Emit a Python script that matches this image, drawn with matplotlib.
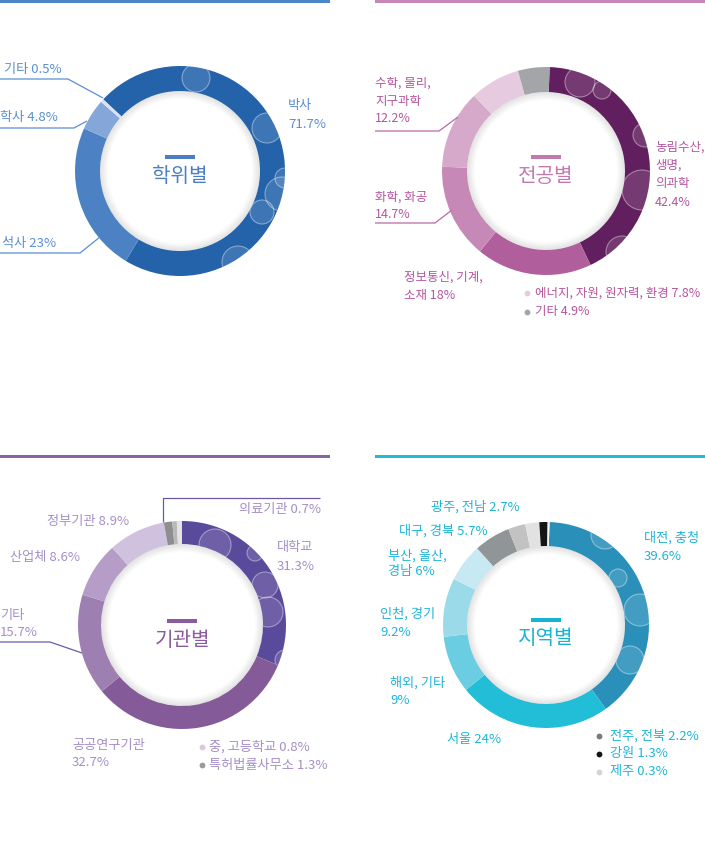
import matplotlib.pyplot as plt
from matplotlib.patches import Wedge, Rectangle, Circle
import numpy as np

plt.rcParams['font.family'] = ['Noto Sans CJK KR', 'DejaVu Sans']

W, H = 705, 851

# 학위별
deg_labels = ['박사', '석사', '학사', '기타']
deg_values = [71.7, 23, 4.8, 0.5]
deg_colors = ['#2462aa', '#4c82c3', '#84a6d8', '#d6e2f2']

# 전공별
major_labels = ['농림수산, 생명, 의과학', '정보통신, 기계, 소재', '화학, 화공',
                '수학, 물리, 지구과학', '에너지, 자원, 원자력, 환경', '기타']
major_values = [42.4, 18, 14.7, 12.2, 7.8, 4.9]
major_colors = ['#621f5f', '#b15e9c', '#c689b7', '#d6a9cb', '#e6cadf', '#a4a5a8']

# 기관별
inst_labels = ['대학교', '공공연구기관', '기타', '산업체', '정부기관',
               '특허법률사무소', '의료기관', '중, 고등학교']
inst_values = [31.3, 32.7, 15.7, 8.6, 8.9, 1.3, 0.7, 0.8]
inst_colors = ['#5a4a9b', '#845b98', '#9d80b1', '#b59dc7', '#d0c2de',
               '#8e8e8e', '#b8b8b8', '#e4e4e4']

# 지역별
region_labels = ['대전, 충청', '서울', '해외, 기타', '인천, 경기', '부산, 울산, 경남',
                 '대구, 경북', '광주, 전남', '전주, 전북', '강원', '제주']
region_values = [39.6, 24, 9, 9.2, 6, 5.7, 2.7, 2.2, 1.3, 0.3]
region_colors = ['#2a8fb9', '#22bdd7', '#6acde1', '#9bdbe9', '#c6e9f3',
                 '#909598', '#c2c2c2', '#e2e2e2', '#151515', '#f5f5f5']


def pct(v):
    return f'{v:g}%'


fig = plt.figure(figsize=(W / 100, H / 100), dpi=100)
ax = fig.add_axes([0, 0, 1, 1])


def Y(y):
    return H - y


def donut(cx, cy, values, colors, start, r=104, w=24, bubbles=()):
    wedges, _ = ax.pie(values, colors=colors, startangle=start, counterclock=False,
                       radius=r, center=(cx, Y(cy)),
                       wedgeprops=dict(width=w, linewidth=0))
    # 거품 무늬 (장식)
    for bx, by, br in bubbles:
        c = Circle((bx, Y(by)), br, facecolor=(1, 1, 1, 0.12),
                   edgecolor=(1, 1, 1, 0.4), lw=0.8)
        c.set_clip_path(wedges[0])
        ax.add_patch(c)
    # 안쪽 그림자
    rin = r - w
    for i in range(9):
        ax.add_patch(Wedge((cx, Y(cy)), rin - i * 0.9, 0, 360, width=0.9,
                           facecolor='#000000', alpha=0.11 * (1 - i / 9), lw=0))
    return wedges


def header(x0, x1, y, color):
    ax.add_patch(Rectangle((x0, Y(y + 3)), x1 - x0, 3, color=color, lw=0))


def title(cx, cy, s, color):
    ax.add_patch(Rectangle((cx - 15, Y(cy - 17)), 30, 4, color=color, lw=0))
    ax.text(cx, Y(cy), s, ha='center', va='center', fontsize=14.5, color=color)


def label(x, ys, lines, color, ha='left', size=9.5):
    for y, s in zip(ys, lines):
        ax.text(x, Y(y), s, ha=ha, va='center', fontsize=size, color=color)


def leader(xs, ys, color):
    ax.plot(xs, [Y(v) for v in ys], color=color, lw=0.9, solid_capstyle='butt')


def bullet(x, y, color):
    ax.plot([x], [Y(y)], 'o', ms=4.2, color=color, mec='none')


# ---------- 학위별 ----------
c1 = '#5a8fd4'
header(0, 330, 0, '#4a86c8')
donut(180, 171, deg_values, deg_colors, 137, r=105, w=25,
      bubbles=[(196, 78, 14), (267, 128, 15), (285, 178, 10), (282, 194, 17),
               (262, 212, 12), (238, 262, 16)])
title(180, 176, '학위별', '#4a7fc4')
label(288, [105, 125], [deg_labels[0], pct(deg_values[0])], c1)
label(2, [244], [f'{deg_labels[1]} {pct(deg_values[1])}'], c1)
label(0, [118], [f'{deg_labels[2]} {pct(deg_values[2])}'], c1)
label(4, [70], [f'{deg_labels[3]} {pct(deg_values[3])}'], c1)
leader([0, 68, 103], [79, 79, 98], c1)
leader([0, 74, 87], [128, 128, 121], c1)
leader([0, 80, 100], [253, 253, 237], c1)

# ---------- 전공별 ----------
c2 = '#b5559f'
s2 = 9
header(375, 705, 0, '#c987b8')
donut(546, 171, major_values, major_colors, 88, r=104, w=25,
      bubbles=[(580, 82, 15), (602, 90, 9), (645, 135, 12), (642, 190, 20),
               (622, 252, 16)])
title(546, 176, '전공별', '#c07aae')
label(655, [147, 165, 183, 202], ['농림수산,', '생명,', '의과학', pct(major_values[0])], c2, size=s2)
label(404, [277, 295], ['정보통신, 기계,', f'소재 {pct(major_values[1])}'], c2, size=s2)
label(375, [197, 214], [major_labels[2], pct(major_values[2])], c2, size=s2)
label(375, [83, 101, 119], ['수학, 물리,', '지구과학', pct(major_values[3])], c2, size=s2)
leader([375, 439, 458], [131, 131, 117], '#b96aa8')
leader([375, 435, 452], [223, 223, 210], '#b96aa8')
bullet(527, 293, major_colors[4])
label(535, [293], [f'{major_labels[4]} {pct(major_values[4])}'], c2, size=s2)
bullet(527, 312, major_colors[5])
label(535, [312], [f'{major_labels[5]} {pct(major_values[5])}'], c2, size=s2)

# ---------- 기관별 ----------
c3 = '#a58fc8'
header(0, 330, 455, '#8a63a0')
donut(182, 625, inst_values, inst_colors, 90, r=104, w=23,
      bubbles=[(215, 545, 16), (255, 553, 8), (265, 585, 13), (268, 612, 15),
               (285, 660, 10)])
title(182, 640, '기관별', '#8a5c9e')
label(277, [548, 567], [inst_labels[0], pct(inst_values[0])], c3)
label(72, [745, 762], [inst_labels[1], pct(inst_values[1])], c3)
label(0, [615, 633], [inst_labels[2], pct(inst_values[2])], c3)
label(10, [557], [f'{inst_labels[3]} {pct(inst_values[3])}'], c3)
label(47, [521], [f'{inst_labels[4]} {pct(inst_values[4])}'], c3)
label(321, [510], [f'{inst_labels[6]} {pct(inst_values[6])}'], c3, ha='right')
leader([163, 163, 320], [522, 498, 498], '#6e58a8')
leader([0, 50, 82], [642, 642, 653], '#6e58a8')
bullet(202, 747, '#dcc8dc')
label(209, [747], [f'{inst_labels[7]} {pct(inst_values[7])}'], c3)
bullet(202, 765, '#9a9a9a')
label(209, [765], [f'{inst_labels[5]} {pct(inst_values[5])}'], c3)

# ---------- 지역별 ----------
c4 = '#1fb5d9'
header(375, 705, 455, '#1cbcd5')
donut(546, 625, region_values, region_colors, 88, r=103, w=24,
      bubbles=[(605, 535, 14), (618, 578, 9), (640, 610, 16), (630, 660, 14)])
title(546, 639, '지역별', '#16b4d3')
label(644, [538, 557], [region_labels[0], pct(region_values[0])], c4)
label(447, [740], [f'{region_labels[1]} {pct(region_values[1])}'], c4)
label(390, [683, 700], [region_labels[2], pct(region_values[2])], c4)
label(380, [614, 633], [region_labels[3], pct(region_values[3])], c4)
label(388, [556, 572], ['부산, 울산,', f'경남 {pct(region_values[4])}'], c4)
label(399, [531], [f'{region_labels[5]} {pct(region_values[5])}'], c4)
label(431, [507], [f'{region_labels[6]} {pct(region_values[6])}'], c4)
for i, (y, col) in enumerate(zip([736, 754, 772], ['#7a7a7a', '#151515', '#d3d3d3'])):
    bullet(599, y, col)
    label(610, [y], [f'{region_labels[7 + i]} {pct(region_values[7 + i])}'], c4)

ax.set_xlim(0, W)
ax.set_ylim(0, H)
ax.set_aspect('auto')
ax.axis('off')
fig.savefig('out.png', dpi=100, facecolor='white')
